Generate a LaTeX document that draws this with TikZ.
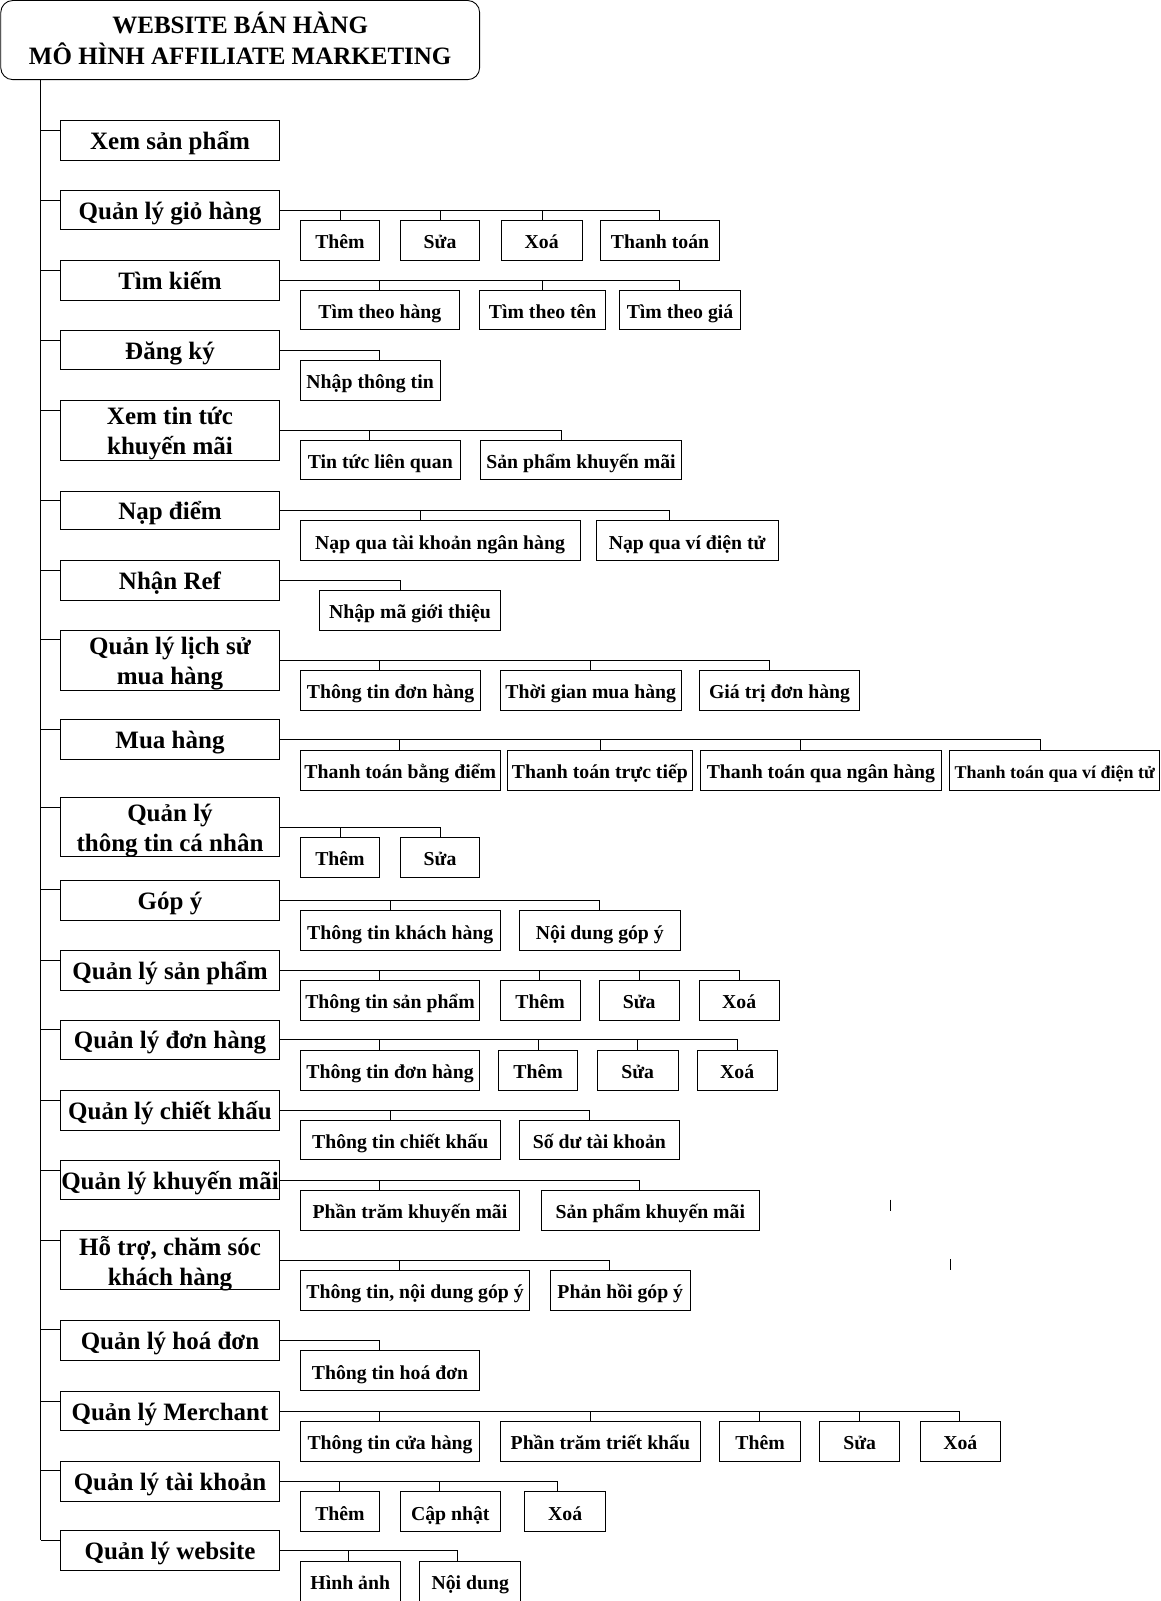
\documentclass[tikz,border=0pt]{standalone}
\usepackage{fontspec}
\setmainfont{Liberation Serif}
\def\U{1.0211}
\tikzset{
  mainbox/.style={draw, line width=0.9pt, inner sep=0pt, align=center,
    font=\fontsize{25}{30}\selectfont\bfseries, text height=23pt, text depth=5pt},
  mainboxII/.style={draw, line width=0.9pt, inner sep=0pt},
  maintext/.style={inner sep=0pt, align=center, font=\fontsize{25}{30}\selectfont\bfseries},
  subbx/.style={draw, line width=0.9pt, inner sep=0pt, align=center,
    font=\fontsize{19.75}{24}\selectfont\bfseries, text height=19.8pt, text depth=3pt},
  rootbox/.style={draw, line width=0.9pt, inner sep=0pt, rounded corners=12pt},
  roottext/.style={inner sep=0pt, align=center, font=\fontsize{25}{30.6}\selectfont\bfseries},
  link/.style={line width=0.9pt, black},
}
% single-line main box: name, top, bottom, text
\newcommand\mainnode[4]{%
  \node[mainbox, minimum width={215*\U pt}, minimum height={(#3-#2)*\U pt}] (#1) at (166.5,{(#2+#3)/2}) {#4};
  \coordinate (#1-b) at (40,{#2+9.5});
  \draw[link] (#1-b) -- (#1-b -| #1.west);
}
% two-line main box: name, top, bottom, text
\newcommand\mainnodeII[4]{%
  \node[mainboxII, minimum width={215*\U pt}, minimum height={(#3-#2)*\U pt}] (#1) at (166.5,{(#2+#3)/2}) {};
  \node[maintext] (#1-t) at ([yshift=-3.5pt]#1.center) {#4};
  \coordinate (#1-b) at (40,{#2+9.5});
  \draw[link] (#1-b) -- (#1-b -| #1.west);
}
% name, left, right, top, dropx, text
\newcommand\subnode[6]{%
  \node[subbx, minimum width={(#3-#2)*\U pt}, minimum height={39*\U pt}] (#1) at ({(#2+#3)/2},{#4+19.5}) {#6};
  \coordinate (#1-d) at (#5,#4);
}
% main, last sub, intermediate subs
\newcommand\rowlink[3]{%
  \draw[link] (#1.east) -| (#2-d);
  \foreach \s in {#3} {\draw[link] (\s-d) -- (\s-d |- #1.east);}
}
\begin{document}
\begin{tikzpicture}[x=\U pt, y=-\U pt]
\useasboundingbox (0,0) rectangle (1137,1568);

\node[rootbox, minimum width={469*\U pt}, minimum height={77.5*\U pt}] (root) at (235.25,39.25) {};
\node[roottext] (root-t) at ([yshift=1.5pt]root.center) {WEBSITE BÁN HÀNG\\MÔ HÌNH AFFILIATE MARKETING};

\mainnode{m1}{118}{157}{Xem sản phẩm}
\mainnode{m2}{187}{225}{Quản lý giỏ hàng}
\mainnode{m3}{255}{294}{Tìm kiếm}
\mainnode{m4}{324}{362}{Đăng ký}
\mainnodeII{m5}{392}{451}{Xem tin tức\\khuyến mãi}
\mainnode{m6}{481}{519}{Nạp điểm}
\mainnode{m7}{549}{588}{Nhận Ref}
\mainnodeII{m8}{617}{676}{Quản lý lịch sử\\mua hàng}
\mainnode{m9}{705}{744}{Mua hàng}
\mainnodeII{m10}{781}{839}{Quản lý\\thông tin cá nhân}
\mainnode{m11}{862}{901}{Góp ý}
\mainnode{m12}{931}{970}{Quản lý sản phẩm}
\mainnode{m13}{999}{1038}{Quản lý đơn hàng}
\mainnode{m14}{1068}{1107}{Quản lý chiết khấu}
\mainnode{m15}{1137}{1175}{Quản lý khuyến mãi}
\mainnodeII{m16}{1205}{1263}{Hỗ trợ, chăm sóc\\khách hàng}
\mainnode{m17}{1293}{1332}{Quản lý hoá đơn}
\mainnode{m18}{1363}{1401}{Quản lý Merchant}
\mainnode{m19}{1431}{1470}{Quản lý tài khoản}
\mainnode{m20}{1499}{1538}{Quản lý website}

\draw[link] (root.south -| m1-b) -- (m20-b);

% row 2
\subnode{s2a}{294}{372}{216}{333}{Thêm}
\subnode{s2b}{392}{470}{216}{431}{Sửa}
\subnode{s2c}{491}{570}{216}{531}{Xoá}
\subnode{s2d}{588}{705}{216}{646}{Thanh toán}
\rowlink{m2}{s2d}{s2a,s2b,s2c}
% row 3
\subnode{s3a}{294}{450}{284}{372}{Tìm theo hàng}
\subnode{s3b}{470}{593}{284}{531}{Tìm theo tên}
\subnode{s3c}{607}{725}{284}{665}{Tìm theo giá}
\rowlink{m3}{s3c}{s3a,s3b}
% row 4
\subnode{s4a}{294}{431}{353}{371.5}{Nhập thông tin}
\draw[link] (m4.east) -| (s4a-d);
% row 5
\subnode{s5a}{294}{451}{431}{362}{Tin tức liên quan}
\subnode{s5b}{471}{667}{431}{550}{Sản phẩm khuyến mãi}
\rowlink{m5}{s5b}{s5a}
% row 6
\subnode{s6a}{294}{568}{510}{412}{Nạp qua tài khoản ngân hàng}
\subnode{s6b}{584}{762}{510}{656}{Nạp qua ví điện tử}
\rowlink{m6}{s6b}{s6a}
% row 7
\subnode{s7a}{313}{490}{578}{392}{Nhập mã giới thiệu}
\draw[link] (m7.east) -| (s7a-d);
% row 8
\subnode{s8a}{294}{471}{656.5}{372}{Thông tin đơn hàng}
\subnode{s8b}{490}{667}{656.5}{578}{Thời gian mua hàng}
\subnode{s8c}{685}{842}{656.5}{754}{Giá trị đơn hàng}
\rowlink{m8}{s8c}{s8a,s8b}
% row 9
\subnode{s9a}{294}{490}{735}{391}{Thanh toán bằng điểm}
\subnode{s9b}{497}{678}{735}{588}{Thanh toán trực tiếp}
\subnode{s9c}{686}{922}{735}{784}{Thanh toán qua ngân hàng}
\subnode{s9d}{930}{1136}{735}{1019}{\fontsize{18}{22}\selectfont Thanh toán qua ví điện tử}
\rowlink{m9}{s9d}{s9a,s9b,s9c}
% row 10
\subnode{s10a}{294}{372}{820}{333}{Thêm}
\subnode{s10b}{392}{470}{820}{431}{Sửa}
\rowlink{m10}{s10b}{s10a}
% row 11
\subnode{s11a}{294}{490}{892}{382}{Thông tin khách hàng}
\subnode{s11b}{509}{666}{892}{587}{Nội dung góp ý}
\rowlink{m11}{s11b}{s11a}
% row 12
\subnode{s12a}{294}{470}{960}{372}{Thông tin sản phẩm}
\subnode{s12b}{490}{568}{960}{528}{Thêm}
\subnode{s12c}{587}{665}{960}{626}{Sửa}
\subnode{s12d}{685}{763}{960}{724}{Xoá}
\rowlink{m12}{s12d}{s12a,s12b,s12c}
% row 13
\subnode{s13a}{294}{470}{1029}{372}{Thông tin đơn hàng}
\subnode{s13b}{488}{566}{1029}{527}{Thêm}
\subnode{s13c}{585}{664}{1029}{624}{Sửa}
\subnode{s13d}{683}{761}{1029}{722}{Xoá}
\rowlink{m13}{s13d}{s13a,s13b,s13c}
% row 14
\subnode{s14a}{294}{490}{1097}{382}{Thông tin chiết khấu}
\subnode{s14b}{509}{665}{1097}{577}{Số dư tài khoản}
\rowlink{m14}{s14b}{s14a}
% row 15
\subnode{s15a}{294}{509}{1166}{372}{Phần trăm khuyến mãi}
\subnode{s15b}{530}{744}{1166}{626}{Sản phẩm khuyến mãi}
\rowlink{m15}{s15b}{s15a}
% row 16
\subnode{s16a}{294}{519}{1244}{391}{Thông tin, nội dung góp ý}
\subnode{s16b}{539}{676}{1244}{597}{Phản hồi góp ý}
\rowlink{m16}{s16b}{s16a}
% row 17
\subnode{s17a}{294}{470}{1323}{372}{Thông tin hoá đơn}
\draw[link] (m17.east) -| (s17a-d);
% row 18
\subnode{s18a}{294}{470}{1392}{372}{Thông tin cửa hàng}
\subnode{s18b}{490}{686}{1392}{578}{Phần trăm triết khấu}
\subnode{s18c}{705}{784}{1392}{744}{Thêm}
\subnode{s18d}{803}{881}{1392}{842}{Sửa}
\subnode{s18e}{901}{980}{1392}{940}{Xoá}
\rowlink{m18}{s18e}{s18a,s18b,s18c,s18d}
% row 19
\subnode{s19a}{294}{372}{1461}{332}{Thêm}
\subnode{s19b}{392}{490}{1461}{430}{Cập nhật}
\subnode{s19c}{514}{593}{1461}{546}{Xoá}
\rowlink{m19}{s19c}{s19a,s19b}
% row 20
\subnode{s20a}{294}{392}{1529}{341}{Hình ảnh}
\subnode{s20b}{411}{510}{1529}{448}{Nội dung}
\rowlink{m20}{s20b}{s20a}

% stray marks
\draw[link] (872,1175) -- (872,1186);
\draw[link] (930.5,1233) -- (930.5,1244);
\end{tikzpicture}
\end{document}
